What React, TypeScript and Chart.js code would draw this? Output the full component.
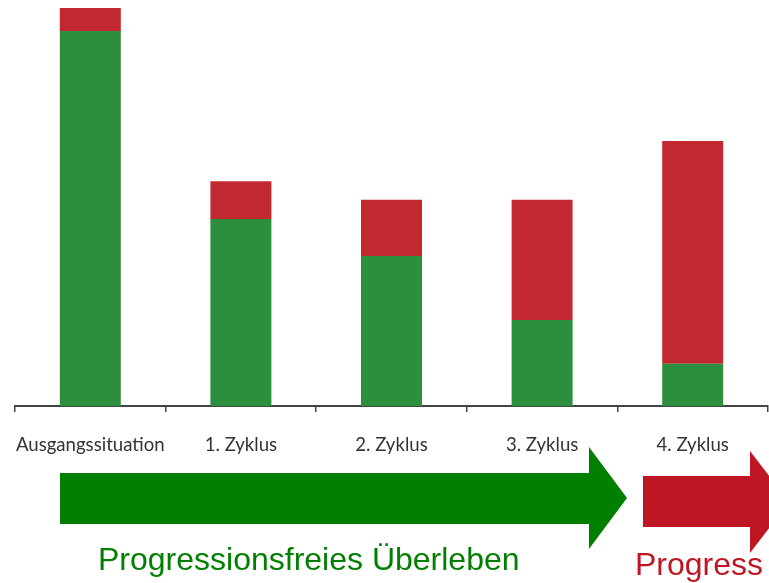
import React, { useEffect, useRef } from "react";
import { Chart, registerables } from "chart.js";

Chart.register(...registerables);

// Treatment stages along the x axis
const categories = ["Ausgangssituation", "1. Zyklus", "2. Zyklus", "3. Zyklus", "4. Zyklus"];
// Share without progression (green, bottom segment)
const progressionFree = [94.2, 47.0, 37.7, 21.6, 10.6];
// Share with progression (red, top segment)
const progressed = [5.8, 9.5, 14.1, 30.2, 56.0];

const BAR_GREEN = "#2b8f3e";
const BAR_RED = "#c1282f";
const ARROW_GREEN = "#007f00";
const ARROW_RED = "#be1622";

// Draws the two direction arrows and their captions below the axis
const arrowsPlugin = {
  id: "stageArrows",
  afterDraw(chart: Chart) {
    const ctx = chart.ctx;
    ctx.save();

    ctx.fillStyle = ARROW_GREEN;
    ctx.beginPath();
    ctx.moveTo(60, 473);
    ctx.lineTo(589, 473);
    ctx.lineTo(589, 447);
    ctx.lineTo(627, 498);
    ctx.lineTo(589, 549);
    ctx.lineTo(589, 524);
    ctx.lineTo(60, 524);
    ctx.closePath();
    ctx.fill();

    ctx.fillStyle = ARROW_RED;
    ctx.beginPath();
    ctx.moveTo(643, 476);
    ctx.lineTo(750, 476);
    ctx.lineTo(750, 451);
    ctx.lineTo(789, 502);
    ctx.lineTo(750, 553);
    ctx.lineTo(750, 527);
    ctx.lineTo(643, 527);
    ctx.closePath();
    ctx.fill();

    ctx.font = '32px "Liberation Sans", Arial, sans-serif';
    ctx.textAlign = "left";
    ctx.textBaseline = "alphabetic";
    ctx.fillStyle = ARROW_GREEN;
    ctx.fillText("Progressionsfreies Überleben", 98, 570);
    ctx.fillStyle = ARROW_RED;
    ctx.fillText("Progress", 635, 575);

    ctx.restore();
  },
};

export default function App() {
  const canvasRef = useRef<HTMLCanvasElement | null>(null);

  useEffect(() => {
    if (!canvasRef.current) return;
    const chart = new Chart(canvasRef.current, {
      type: "bar",
      data: {
        labels: categories,
        datasets: [
          {
            label: "Progressionsfrei",
            data: progressionFree,
            backgroundColor: BAR_GREEN,
            borderWidth: 0,
          },
          {
            label: "Progression",
            data: progressed,
            backgroundColor: BAR_RED,
            borderWidth: 0,
          },
        ],
      },
      options: {
        animation: false,
        responsive: true,
        maintainAspectRatio: false,
        events: [],
        layout: { padding: { left: 15, right: 1, top: 8, bottom: 0 } },
        datasets: {
          bar: { categoryPercentage: 1, barPercentage: 0.405 },
        },
        plugins: {
          legend: { display: false },
          tooltip: { enabled: false },
        },
        scales: {
          x: {
            stacked: true,
            afterFit: (scale: any) => {
              scale.height = 177;
              scale.paddingLeft = 0;
              scale.paddingRight = 0;
            },
            border: { display: true, color: "#444", width: 2 },
            grid: {
              display: true,
              offset: true,
              drawOnChartArea: false,
              drawTicks: true,
              tickLength: 6,
              color: "#444",
              lineWidth: 1.5,
            },
            ticks: {
              color: "#333",
              padding: 22,
              maxRotation: 0,
              autoSkip: false,
              font: { family: "Lato, 'Liberation Sans', sans-serif", size: 18.6 },
            },
          },
          y: {
            stacked: true,
            display: false,
            min: 0,
            max: 100,
          },
        },
      },
      plugins: [arrowsPlugin],
    });
    return () => chart.destroy();
  }, []);

  return (
    <div
      style={{
        position: "fixed",
        left: 0,
        top: 0,
        width: 769,
        height: 583,
        background: "#fff",
        overflow: "hidden",
      }}
    >
      <canvas ref={canvasRef} />
    </div>
  );
}
